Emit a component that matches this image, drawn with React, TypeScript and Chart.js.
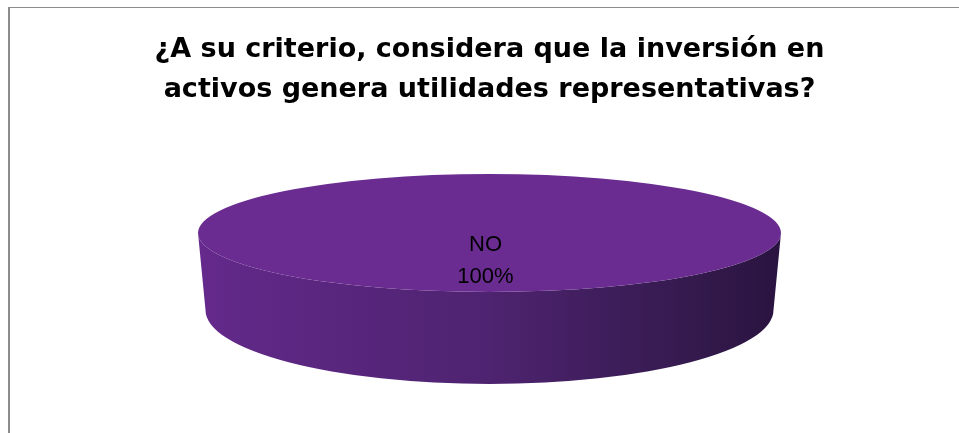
import React, { useEffect, useRef } from "react";
import { Chart, registerables } from "chart.js";

Chart.register(...registerables);

const titleLines = [
  "¿A su criterio, considera que la inversión en",
  "activos genera utilidades representativas?",
];
const categories = ["NO"];
const values = [100];
const sliceColors = ["#6a2c91"];

const RX = 291.5;
const RY = 59;
const DEPTH = 77;
const BOTTOM_RX = 284;
const BOTTOM_RY = 74;

const pie3dPlugin = {
  id: "pie3d",
  beforeDatasetsDraw(chart: any) {
    const arc = chart.getDatasetMeta(0).data[0];
    if (!arc) return;
    const { x, y, outerRadius } = arc.getProps(["x", "y", "outerRadius"], true);
    const ctx = chart.ctx;
    ctx.save();
    // side wall
    ctx.beginPath();
    ctx.ellipse(x, y, RX, RY, 0, Math.PI, 0, true);
    ctx.lineTo(x + BOTTOM_RX, y + DEPTH);
    ctx.ellipse(x, y + DEPTH, BOTTOM_RX, BOTTOM_RY, 0, 0, Math.PI, false);
    ctx.closePath();
    const g = ctx.createLinearGradient(x - RX, 0, x + RX, 0);
    g.addColorStop(0, "#66298d");
    g.addColorStop(0.08, "#5f2886");
    g.addColorStop(0.5, "#4e2370");
    g.addColorStop(0.85, "#341a4d");
    g.addColorStop(1, "#2a1340");
    ctx.fillStyle = g;
    ctx.fill();
    // squash the library-drawn pie into the top face
    ctx.translate(x, y);
    ctx.scale(RX / outerRadius, RY / outerRadius);
    ctx.translate(-x, -y);
  },
  afterDatasetsDraw(chart: any) {
    const ctx = chart.ctx;
    ctx.restore();
    const arc = chart.getDatasetMeta(0).data[0];
    if (!arc) return;
    const { x, y } = arc.getProps(["x", "y"], true);
    const total = values.reduce((a, b) => a + b, 0);
    ctx.save();
    ctx.fillStyle = "#000000";
    ctx.font = "22px 'Liberation Sans', Arial, sans-serif";
    ctx.textAlign = "center";
    ctx.textBaseline = "middle";
    ctx.fillText(categories[0], x - 4, y + 12);
    ctx.fillText(Math.round((values[0] / total) * 100) + "%", x - 4, y + 44);
    ctx.restore();
  },
};

export default function App() {
  const ref = useRef<HTMLCanvasElement>(null);
  useEffect(() => {
    if (!ref.current) return;
    const chart = new Chart(ref.current, {
      type: "pie",
      data: {
        labels: categories,
        datasets: [
          {
            data: values,
            backgroundColor: sliceColors,
            borderWidth: 0,
            clip: false,
          } as any,
        ],
      },
      options: {
        animation: false,
        responsive: false,
        layout: { padding: { left: 20, bottom: 85 } },
        plugins: {
          legend: { display: false },
          tooltip: { enabled: false },
          title: {
            display: true,
            text: titleLines,
            color: "#000000",
            font: { family: "'DejaVu Sans', sans-serif", size: 27, weight: "bold", lineHeight: 1.48 },
            padding: { top: 30, bottom: 8 },
          },
        },
      },
      plugins: [pie3dPlugin],
    });
    return () => chart.destroy();
  }, []);
  return (
    <div style={{ position: "fixed", left: 0, top: 0, width: 959, height: 433, background: "#ffffff", overflow: "hidden" }}>
      <div
        style={{
          position: "absolute",
          left: 8,
          top: 7,
          width: 1000,
          height: 500,
          borderTop: "1px solid #8c8c8c",
          borderLeft: "2px solid #8c8c8c",
        }}
      />
      <canvas ref={ref} width={959} height={433} style={{ position: "absolute", left: 0, top: 0, width: 959, height: 433 }} />
    </div>
  );
}
